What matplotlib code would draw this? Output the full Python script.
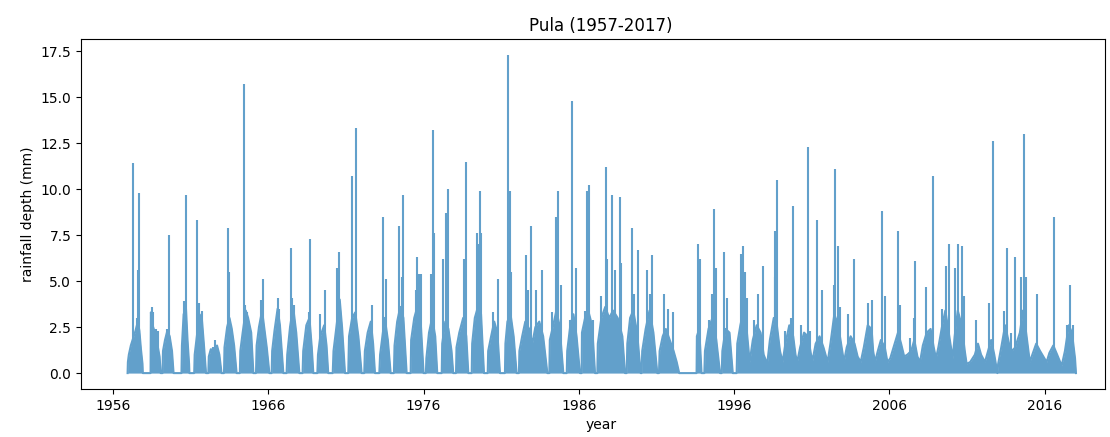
import numpy as np
import matplotlib
matplotlib.use('Agg')
import matplotlib.pyplot as plt

# main daily peaks (decimal year, mm)
spike_year = [1957.27, 1957.55, 1957.62, 1957.65, 1958.50, 1958.60, 1958.80, 1958.90,
              1959.45, 1959.63, 1960.60, 1960.70, 1961.43, 1961.55, 1961.70, 1962.45,
              1962.60, 1963.43, 1963.48, 1963.60, 1964.46, 1964.52, 1964.60, 1964.70,
              1965.55, 1965.64, 1966.65, 1966.72, 1967.48, 1967.55, 1967.68, 1968.60,
              1968.68, 1969.33, 1969.65, 1970.45, 1970.57, 1971.41, 1971.62, 1971.75,
              1972.55, 1972.66, 1973.41, 1973.60, 1974.44, 1974.60, 1974.70, 1975.50,
              1975.60, 1975.70, 1975.81, 1976.50, 1976.59, 1976.66, 1977.23, 1977.45,
              1977.55, 1978.62, 1978.71, 1979.42, 1979.53, 1979.63, 1979.68, 1980.48,
              1980.77, 1981.43, 1981.56, 1981.65, 1982.57, 1982.70, 1982.91, 1983.22,
              1983.60, 1984.30, 1984.53, 1984.68, 1984.85, 1985.40, 1985.56, 1985.81,
              1986.40, 1986.50, 1986.63, 1986.93, 1987.42, 1987.72, 1987.80, 1988.11,
              1988.35, 1988.62, 1988.72, 1989.44, 1989.55, 1989.78, 1990.41, 1990.58,
              1990.73, 1991.48, 1991.76, 1992.08, 1993.69, 1993.80, 1994.40, 1994.60,
              1994.72, 1994.85, 1995.35, 1995.55, 1996.44, 1996.59, 1996.72, 1996.85,
              1997.30, 1997.51, 1997.83, 1998.60, 1998.65, 1998.73, 1999.30, 1999.63,
              1999.81, 2000.30, 2000.50, 2000.73, 2000.90, 2001.31, 2001.68, 2002.42,
              2002.49, 2002.66, 2002.80, 2003.35, 2003.71, 2004.60, 2004.85, 2005.50,
              2005.72, 2006.57, 2006.68, 2007.30, 2007.55, 2007.64, 2008.35, 2008.82,
              2009.40, 2009.64, 2009.81, 2010.22, 2010.39, 2010.67, 2010.78, 2011.60,
              2012.43, 2012.67, 2013.40, 2013.59, 2013.80, 2014.06, 2014.50, 2014.68,
              2014.78, 2015.51, 2016.58, 2017.45, 2017.65, 2017.80]
spike_mm = [11.4, 3.0, 5.6, 9.8, 3.6, 3.3, 2.4, 2.3,
            2.4, 7.5, 3.9, 9.7, 8.3, 3.8, 3.4, 1.4,
            1.8, 7.9, 5.5, 2.6, 15.7, 3.7, 3.3, 2.9,
            4.0, 5.1, 4.1, 3.5, 6.8, 4.1, 3.7, 3.3,
            7.3, 3.2, 4.5, 5.7, 6.6, 10.7, 13.3, 1.9,
            2.2, 3.7, 8.5, 5.1, 8.0, 5.2, 9.7, 4.5,
            6.3, 5.4, 5.4, 5.4, 13.2, 7.6, 6.2, 8.7,
            10.0, 6.2, 11.5, 7.6, 7.0, 9.9, 7.6, 3.3,
            5.1, 17.3, 9.9, 5.5, 6.4, 4.5, 8.0, 4.5,
            5.6, 3.3, 8.5, 9.9, 4.8, 2.9, 14.8, 5.7,
            3.4, 9.9, 10.2, 2.9, 4.2, 11.2, 6.2, 9.7,
            5.6, 9.6, 6.0, 7.9, 4.3, 6.7, 5.6, 4.3,
            6.4, 4.3, 3.5, 3.3, 7.0, 6.2, 2.9, 4.3,
            8.9, 5.7, 6.6, 4.1, 6.5, 6.9, 5.5, 4.1,
            2.9, 4.3, 5.8, 5.2, 7.7, 10.5, 2.3, 3.0,
            9.1, 2.6, 1.9, 12.3, 2.3, 8.3, 4.5, 4.8,
            11.1, 6.9, 3.6, 3.2, 6.2, 3.8, 4.0, 8.8,
            4.2, 7.7, 3.7, 1.9, 3.0, 6.1, 4.7, 10.7,
            3.5, 5.8, 7.0, 5.7, 7.0, 6.9, 4.2, 2.9,
            3.8, 12.6, 3.4, 6.8, 2.2, 6.3, 5.2, 13.0,
            5.2, 4.3, 8.5, 2.6, 4.8, 2.6]

# envelope of the many small daily values in each wet season
season_year = [1956.94, 1956.96, 1957.02, 1957.15, 1957.30, 1957.45, 1957.60, 1957.70, 1957.80, 1957.90, 1957.92,
               1958.42, 1958.44, 1958.55, 1958.70, 1958.85, 1959.00, 1959.07,
               1959.19, 1959.22, 1959.35, 1959.50, 1959.65, 1959.80, 1959.90,
               1960.41, 1960.44, 1960.55, 1960.70, 1960.80, 1960.90, 1960.92,
               1961.23, 1961.26, 1961.40, 1961.55, 1961.70, 1961.85, 1961.99,
               1962.14, 1962.17, 1962.30, 1962.50, 1962.70, 1962.85, 1962.99,
               1963.15, 1963.18, 1963.35, 1963.50, 1963.65, 1963.80, 1963.96,
               1964.17, 1964.20, 1964.35, 1964.55, 1964.70, 1964.90, 1965.04,
               1965.21, 1965.25, 1965.40, 1965.60, 1965.75, 1965.90, 1966.07,
               1966.22, 1966.25, 1966.40, 1966.60, 1966.75, 1966.97,
               1967.18, 1967.22, 1967.40, 1967.60, 1967.80, 1968.00,
               1968.21, 1968.25, 1968.45, 1968.65, 1968.80, 1968.90,
               1969.16, 1969.20, 1969.35, 1969.60, 1969.75, 1969.86,
               1970.15, 1970.20, 1970.40, 1970.60, 1970.75, 1970.94,
               1971.15, 1971.20, 1971.40, 1971.60, 1971.80, 1972.01,
               1972.18, 1972.22, 1972.40, 1972.60, 1972.75, 1972.87,
               1973.15, 1973.20, 1973.35, 1973.50, 1973.70, 1973.88,
               1974.09, 1974.13, 1974.30, 1974.50, 1974.70, 1974.91,
               1975.17, 1975.20, 1975.40, 1975.60, 1975.80, 1976.00,
               1976.15, 1976.18, 1976.35, 1976.55, 1976.75, 1976.88,
               1977.17, 1977.20, 1977.40, 1977.60, 1977.80, 1977.91,
               1978.09, 1978.12, 1978.30, 1978.55, 1978.75, 1978.88,
               1979.10, 1979.13, 1979.30, 1979.50, 1979.70, 1979.89,
               1980.13, 1980.16, 1980.35, 1980.55, 1980.75, 1980.92,
               1981.24, 1981.27, 1981.40, 1981.60, 1981.80, 1981.99,
               1982.14, 1982.17, 1982.35, 1982.55, 1982.80, 1983.00, 1983.20, 1983.45, 1983.70, 1983.97,
               1984.10, 1984.13, 1984.35, 1984.55, 1984.75, 1985.00,
               1985.22, 1985.25, 1985.45, 1985.65, 1985.85, 1986.07,
               1986.18, 1986.20, 1986.40, 1986.60, 1986.85, 1987.04,
               1987.19, 1987.22, 1987.45, 1987.70, 1987.95, 1988.20, 1988.50, 1988.80, 1988.97,
               1989.08, 1989.12, 1989.30, 1989.50, 1989.75, 1989.98,
               1990.04, 1990.08, 1990.30, 1990.55, 1990.80, 1991.05,
               1991.16, 1991.20, 1991.40, 1991.60, 1991.85, 1992.10, 1992.30, 1992.46,
               1993.58, 1993.60, 1993.75, 1993.90,
               1994.08, 1994.12, 1994.35, 1994.60, 1994.85, 1995.09,
               1995.20, 1995.24, 1995.45, 1995.70, 1995.91,
               1996.16, 1996.20, 1996.40, 1996.60, 1996.80, 1997.00,
               1997.20, 1997.45, 1997.70, 1997.90, 1998.13,
               1998.30, 1998.55, 1998.75, 1998.95, 1999.12,
               1999.30, 1999.55, 1999.80, 1999.95, 2000.06,
               2000.25, 2000.50, 2000.75, 2000.95, 2001.05,
               2001.25, 2001.50, 2001.75, 2001.95, 2002.00,
               2002.20, 2002.45, 2002.70, 2002.90, 2003.07,
               2003.25, 2003.50, 2003.75, 2003.95, 2004.15,
               2004.35, 2004.60, 2004.85, 2004.95, 2005.07,
               2005.25, 2005.45, 2005.70, 2005.87,
               2006.05, 2006.30, 2006.55, 2006.75, 2006.95,
               2007.15, 2007.40, 2007.60, 2007.80, 2007.97,
               2008.15, 2008.40, 2008.65, 2008.85, 2009.00,
               2009.15, 2009.40, 2009.60, 2009.85, 2010.07,
               2010.20, 2010.40, 2010.65, 2010.85, 2010.97,
               2011.20, 2011.50, 2011.70, 2011.90, 2012.15,
               2012.35, 2012.55, 2012.75, 2012.95, 2013.00,
               2013.20, 2013.45, 2013.70, 2013.90, 2014.10, 2014.40, 2014.60, 2014.80, 2015.04,
               2015.20, 2015.45, 2015.70, 2016.12,
               2016.30, 2016.55, 2016.80, 2017.09,
               2017.30, 2017.55, 2017.75, 2017.95, 2018.01]
season_mm = [0, 0.6, 1.0, 1.5, 1.9, 2.3, 2.8, 2.3, 1.3, 0.5, 0,
             0, 3.3, 2.6, 2.2, 1.6, 0.9, 0,
             0, 1.2, 1.8, 2.3, 2.0, 1.2, 0,
             0, 1.5, 3.2, 3.5, 1.8, 0.5, 0,
             0, 1.0, 2.0, 3.0, 3.2, 1.6, 0,
             0, 0.9, 1.3, 1.2, 1.5, 1.0, 0,
             0, 1.4, 2.5, 3.0, 2.4, 1.5, 0,
             0, 1.2, 2.2, 3.4, 3.0, 2.2, 0,
             0, 1.5, 2.5, 3.4, 2.4, 1.4, 0,
             0, 1.2, 2.3, 3.5, 2.6, 0,
             0, 1.0, 2.5, 3.6, 2.2, 0,
             0, 1.2, 2.6, 3.0, 1.4, 0,
             0, 1.0, 2.0, 2.6, 1.5, 0,
             0, 1.2, 2.6, 4.0, 2.5, 0,
             0, 2.0, 3.0, 3.3, 2.0, 0,
             0, 1.2, 2.2, 2.8, 1.6, 0,
             0, 1.0, 2.0, 3.0, 1.8, 0,
             0, 1.5, 2.8, 3.6, 3.0, 0,
             0, 1.8, 3.0, 3.6, 3.0, 0,
             0, 0.8, 2.2, 3.0, 2.0, 0,
             0, 1.6, 2.8, 2.4, 1.2, 0,
             0, 1.4, 2.2, 3.0, 2.0, 0,
             0, 1.6, 3.0, 3.6, 3.2, 0,
             0, 1.2, 2.0, 2.8, 2.2, 0,
             0, 1.6, 2.8, 3.2, 2.0, 0,
             0, 1.2, 2.0, 2.8, 2.4, 1.6, 2.5, 2.8, 2.0, 0,
             0, 1.8, 2.6, 3.4, 2.6, 0,
             0, 1.2, 2.6, 3.2, 2.0, 0,
             0, 2.2, 3.0, 3.4, 2.6, 0,
             0, 1.6, 3.0, 3.6, 3.0, 3.4, 3.0, 2.0, 0,
             0, 1.6, 3.0, 3.4, 2.2, 0,
             0, 1.2, 2.4, 3.4, 2.2, 0,
             0, 1.2, 2.0, 2.4, 1.8, 1.2, 0.6, 0,
             0, 2.0, 2.4, 0,
             0, 1.2, 2.4, 3.0, 1.8, 0,
             0, 1.2, 2.4, 2.2, 0,
             0, 1.6, 2.6, 3.4, 2.4, 0.6,
             1.8, 2.6, 2.2, 1.0, 0.5,
             1.8, 3.0, 2.6, 1.2, 0.6,
             1.6, 2.6, 2.0, 1.0, 0.6,
             1.4, 2.2, 2.0, 1.0, 0.7,
             1.6, 2.0, 1.4, 0.8, 0.5,
             1.6, 3.2, 2.6, 1.5, 0.6,
             1.4, 2.0, 1.6, 0.9, 0.6,
             1.4, 2.6, 2.4, 1.2, 0.6,
             1.2, 1.8, 1.4, 0.6,
             0.8, 1.5, 2.2, 1.6, 0.9,
             1.0, 1.2, 1.8, 0.9, 0.6,
             1.5, 2.2, 2.4, 1.4, 0.8,
             1.4, 2.6, 3.4, 2.0, 0.8,
             2.0, 3.4, 2.6, 1.2, 0.5,
             0.6, 1.0, 1.6, 1.0, 0.6,
             1.2, 1.8, 1.0, 0.0, 0.5,
             1.4, 2.6, 1.6, 1.2, 1.4, 2.2, 3.4, 2.2, 0.6,
             1.0, 1.6, 1.2, 0.6,
             1.1, 1.5, 1.0, 0.4,
             1.2, 2.6, 2.2, 0.8, 0]

year_ticks = [1956, 1966, 1976, 1986, 1996, 2006, 2016]

line_color = '#62a0cb'

fig = plt.figure(figsize=(11.1, 4.37), dpi=100)
ax = fig.add_axes([81 / 1110, 1 - 389 / 437, 1024 / 1110, 350 / 437])

# 小雨的季节包络 + 日降雨峰值
ax.fill_between(season_year, 0, season_mm, color=line_color, lw=0)
ax.plot(season_year, season_mm, color=line_color, lw=1.5)
ax.vlines(spike_year, 0, spike_mm, color=line_color, lw=1.5)

ax.set_xlim(1953.94, 2019.88)
ax.set_xticks(year_ticks)
ax.set_xticklabels([str(y) for y in year_ticks])
ax.set_title('Pula (1957-2017)', x=0.508)
ax.set_xlabel('year', x=0.508)
ax.set_ylabel('rainfall depth (mm)')

fig.savefig('out.png', dpi=100)
